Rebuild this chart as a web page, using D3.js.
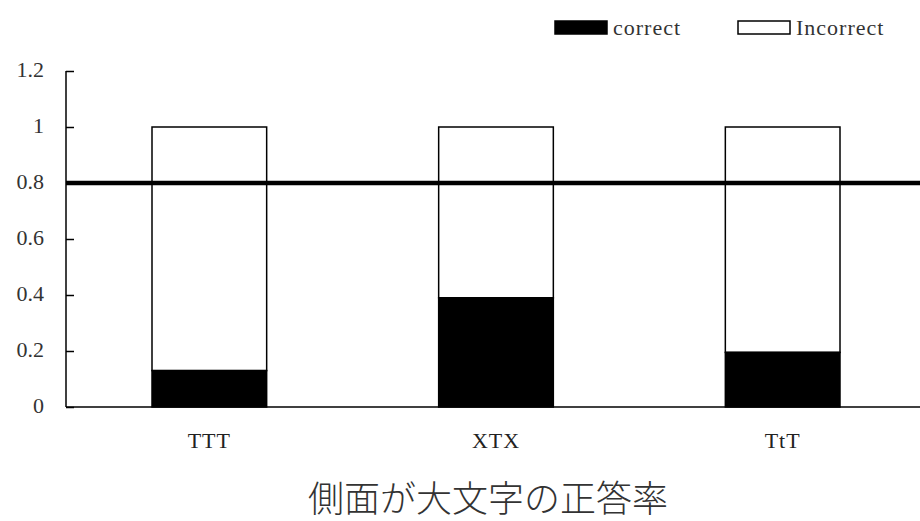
<!DOCTYPE html>
<html>
<head>
<meta charset="utf-8">
<script src="https://cdn.jsdelivr.net/npm/d3@7"></script>
<style>
  html, body { margin: 0; padding: 0; background: #fff; }
  svg { display: block; }
</style>
</head>
<body>
<svg id="chart" width="920" height="521"></svg>
<script>
// Data
const categories = ["TTT", "XTX", "TtT"];
const correctValues = [0.13, 0.39, 0.195];
const incorrectValues = [0.87, 0.61, 0.805];
const yTicks = [0, 0.2, 0.4, 0.6, 0.8, 1, 1.2];
const yTickLabels = ["0", "0.2", "0.4", "0.6", "0.8", "1", "1.2"];
const thresholdValue = [0.8];
const legendLabels = ["correct", "Incorrect"];
const axisTitle = "側面が大文字の正答率";

const svg = d3.select("#chart");
const margin = { left: 66, right: 0, top: 71, bottom: 114 };
const W = 920, H = 521;
const serif = "'Liberation Serif', 'DejaVu Serif', serif";

const x = d3.scaleBand()
  .domain(categories)
  .range([margin.left, 926])
  .paddingInner(0.6)
  .paddingOuter(0.3);

const y = d3.scaleLinear()
  .domain([0, 1.2])
  .range([H - margin.bottom, margin.top]);

const stacked = categories.map((c, i) => ({
  cat: c,
  correct: correctValues[i],
  incorrect: incorrectValues[i]
}));

// Incorrect (white) segment stacked above the correct (black) segment
svg.append("g").selectAll("rect.inc")
  .data(stacked)
  .join("rect")
  .attr("class", "inc")
  .attr("x", d => x(d.cat))
  .attr("width", x.bandwidth())
  .attr("y", d => y(d.correct + d.incorrect))
  .attr("height", d => y(d.correct) - y(d.correct + d.incorrect))
  .attr("fill", "#fff")
  .attr("stroke", "#000")
  .attr("stroke-width", 1.5);

svg.append("g").selectAll("rect.cor")
  .data(stacked)
  .join("rect")
  .attr("class", "cor")
  .attr("x", d => x(d.cat))
  .attr("width", x.bandwidth())
  .attr("y", d => y(d.correct))
  .attr("height", d => y(0) - y(d.correct))
  .attr("fill", "#000")
  .attr("stroke", "#000")
  .attr("stroke-width", 1.5);

// Y axis with inward ticks
const yAxis = d3.axisRight(y)
  .tickValues(yTicks)
  .tickFormat((d, i) => yTickLabels[i])
  .tickSize(8)
  .tickSizeOuter(0);

const yG = svg.append("g")
  .attr("transform", `translate(${margin.left},0)`)
  .call(yAxis);
yG.attr("font-family", null).attr("font-size", null);
yG.select(".domain").attr("stroke", "#000").attr("stroke-width", 1.5)
  .attr("d", `M0,${y(1.2)}V${y(0)}`);
yG.selectAll(".tick line").attr("stroke", "#000").attr("stroke-width", 1.5);
yG.selectAll(".tick text")
  .attr("x", -22)
  .attr("dy", "0.25em")
  .attr("text-anchor", "end")
  .style("font-family", serif)
  .style("font-size", "22px")
  .attr("fill", "#333");

// X axis baseline
const xAxis = d3.axisBottom(x).tickSize(0).tickSizeOuter(0);
const xG = svg.append("g")
  .attr("transform", `translate(0,${y(0)})`)
  .call(xAxis);
xG.attr("font-family", null).attr("font-size", null);
xG.select(".domain").attr("stroke", "#000").attr("stroke-width", 1.5)
  .attr("d", `M${margin.left},0H${W}`);
xG.selectAll(".tick text")
  .attr("dy", 0)
  .attr("y", 41)
  .style("font-family", serif)
  .style("font-size", "22px")
  .style("letter-spacing", "1px")
  .attr("fill", "#222");

// Reference line at 0.8
svg.append("g").selectAll("line.ref")
  .data(thresholdValue)
  .join("line")
  .attr("class", "ref")
  .attr("x1", margin.left)
  .attr("x2", W)
  .attr("y1", d => y(d))
  .attr("y2", d => y(d))
  .attr("stroke", "#000")
  .attr("stroke-width", 4.5);

// Legend
const legend = svg.append("g");
const legendItems = [
  { label: legendLabels[0], fill: "#000", x: 555 },
  { label: legendLabels[1], fill: "#fff", x: 738 }
];
legendItems.forEach(it => {
  legend.append("rect")
    .attr("x", it.x).attr("y", 21)
    .attr("width", 52).attr("height", 13)
    .attr("fill", it.fill)
    .attr("stroke", "#000").attr("stroke-width", 1.5);
  legend.append("text")
    .attr("x", it.x + 58).attr("y", 35)
    .style("font-family", serif)
    .style("font-size", "22px")
    .style("letter-spacing", "1px")
    .attr("fill", "#333")
    .text(it.label);
});

// Axis title
svg.append("text")
  .attr("x", 488)
  .attr("y", 512)
  .attr("text-anchor", "middle")
  .style("font-family", "'Noto Sans CJK JP', sans-serif")
  .style("font-weight", 300)
  .style("font-size", "36px")
  .attr("fill", "#333")
  .text(axisTitle);
</script>
</body>
</html>
